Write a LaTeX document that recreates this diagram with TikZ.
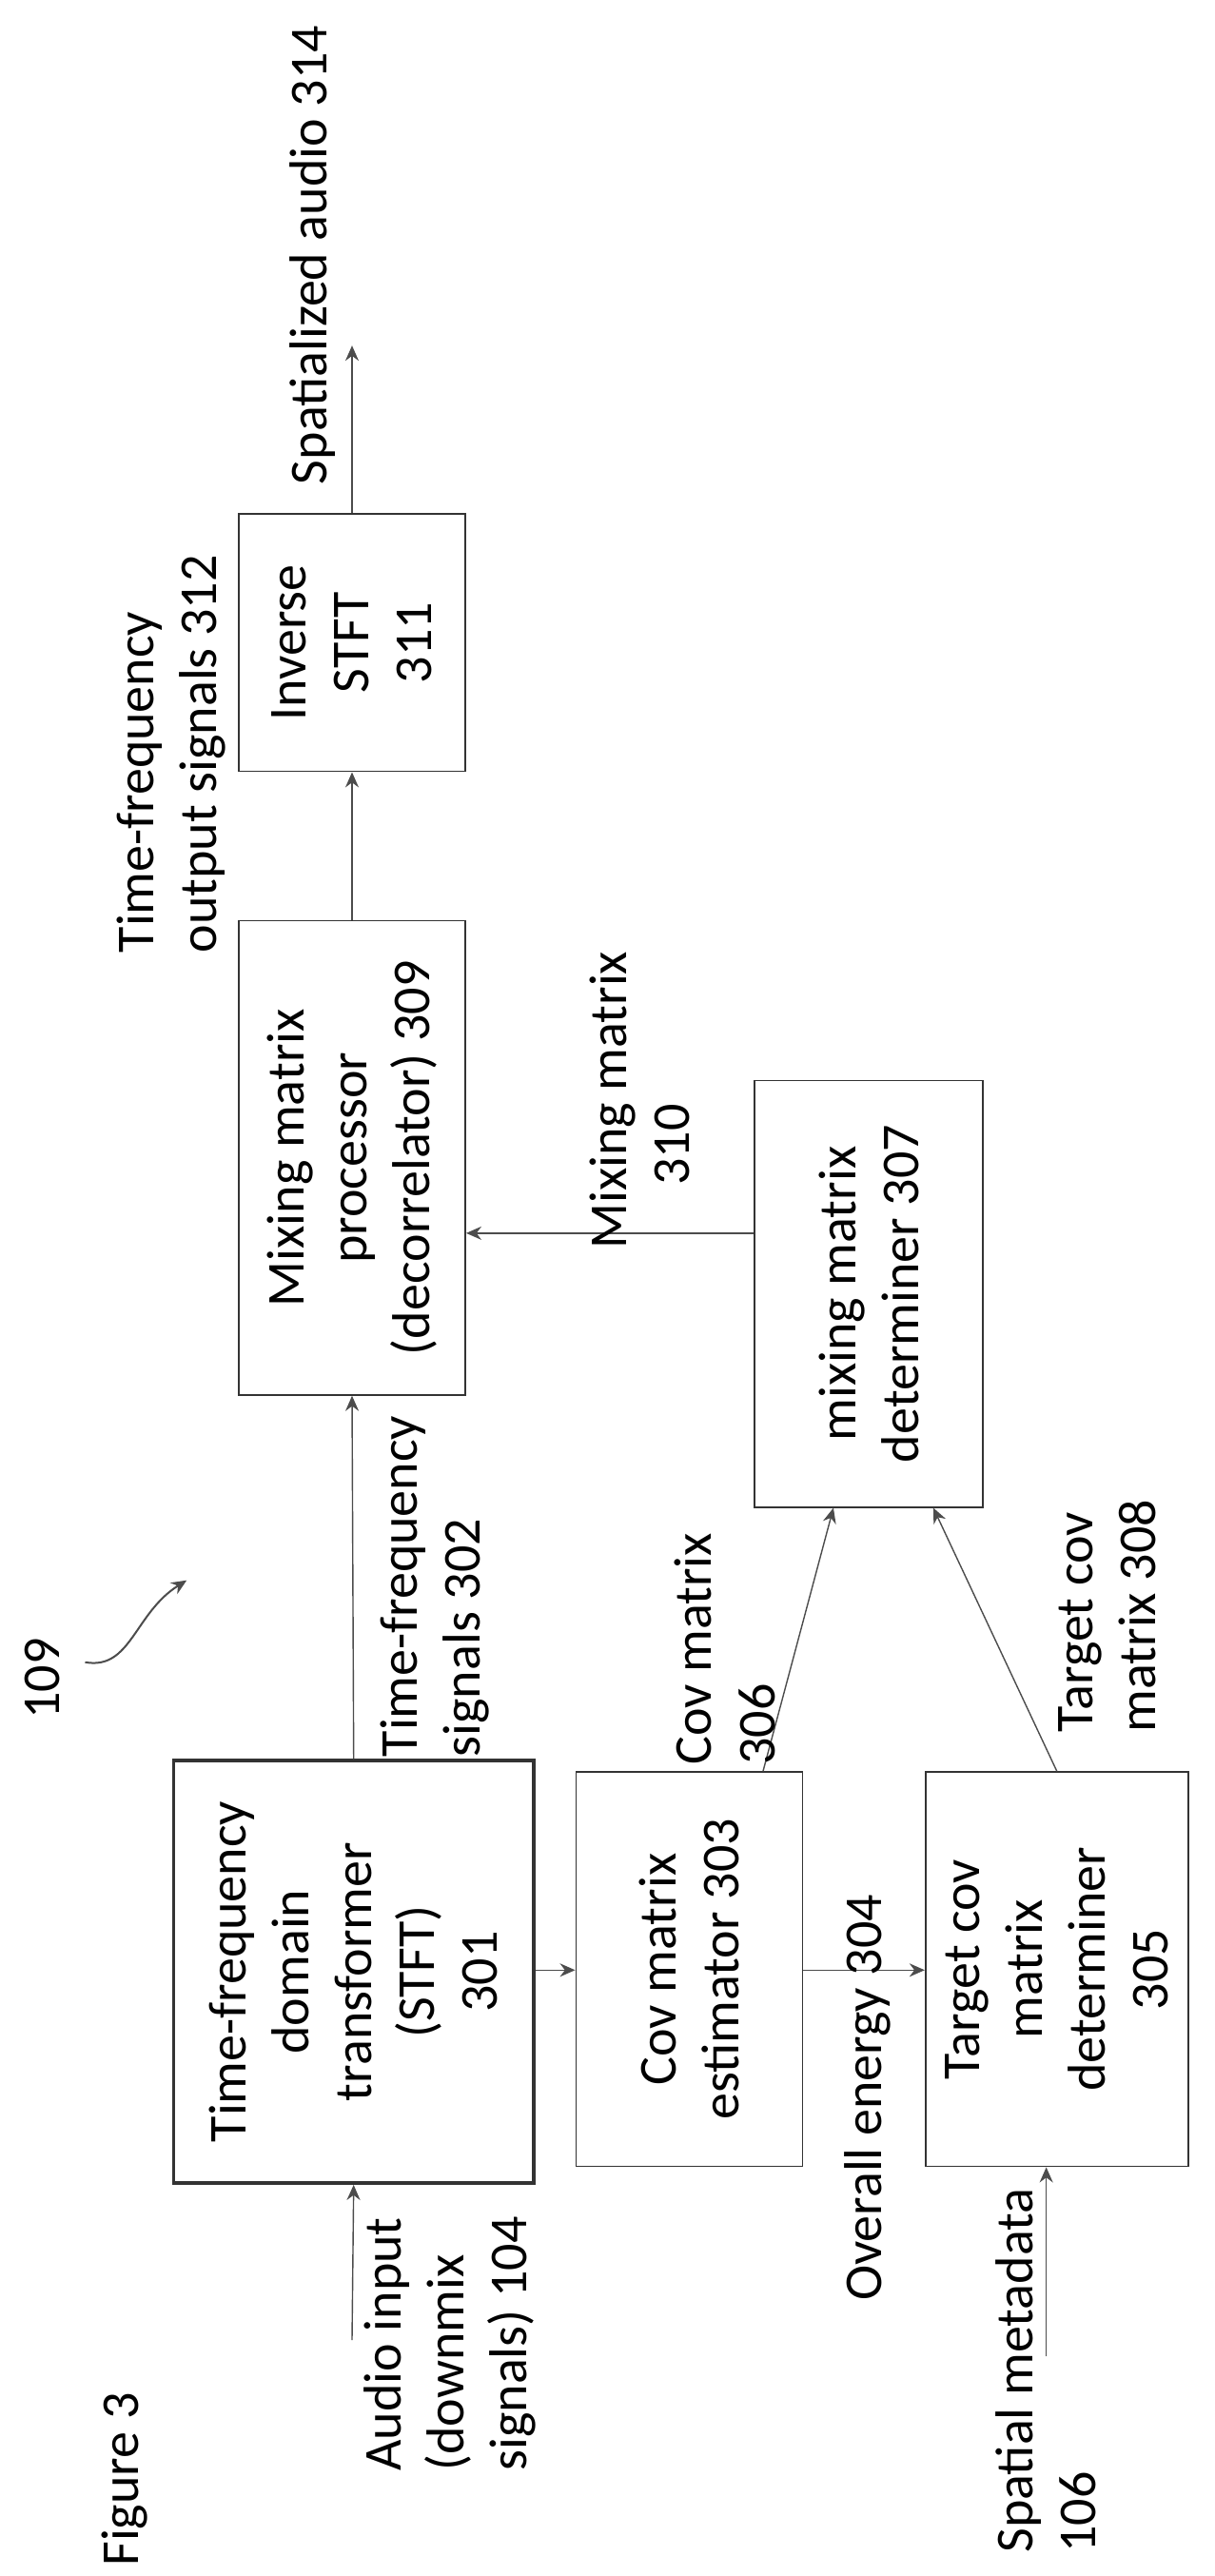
\documentclass[tikz,border=0pt]{standalone}
\usepackage{fontspec}
\setmainfont{Carlito}
\usetikzlibrary{arrows.meta}
\begin{document}
\begin{tikzpicture}[x=0.86pt,y=0.86pt,
  box/.style={draw=black!80,line width=0.9pt,rotate=90,align=center,inner sep=0pt,font=\fontsize{28}{33}\selectfont},
  lab/.style={rotate=90,align=left,inner sep=0pt,font=\fontsize{28}{33}\selectfont},
  arr/.style={draw=black!70,line width=0.7pt,-{Stealth[length=8pt,width=7pt]}}]
\useasboundingbox (0,0) rectangle (742,-1573);
\node[box,line width=1.8pt,minimum width=222pt,minimum height=189pt] (b301) at (216,-1204) {Time-frequency\\domain\\transformer\\(STFT)\\301};
\node[box,minimum width=207pt,minimum height=119pt] (b303) at (421,-1202.5) {Cov matrix\\estimator 303};
\node[box,minimum width=207pt,minimum height=138pt] (b305) at (645.5,-1202.5) {Target cov\\matrix\\determiner\\305};
\node[box,minimum width=224pt,minimum height=120pt] (b307) at (530.5,-790) {mixing matrix\\determiner 307};
\node[box,minimum width=249pt,minimum height=119pt] (b309) at (215,-707) {Mixing matrix\\processor\\(decorrelator) 309};
\node[box,minimum width=135pt,minimum height=119pt] (b311) at (215,-392.5) {Inverse\\STFT\\311};
\coordinate (ain) at (215,-1429);
\coordinate (smd) at (639,-1439);
\coordinate (out) at (215,-211);
\draw[arr] (ain) -- (b301.west);
\draw[arr] (b301.east) -- (b309.west);
\draw[arr] (b301.south |- 0,-1203) -- (b303.north |- 0,-1203);
\draw[arr] (b303.south |- 0,-1203) -- (b305.north |- 0,-1203);
\draw[arr] (smd) -- (smd |- b305.west);
\draw[arr] (b303.east -| 466,0) -- (b307.west -| 509,0);
\draw[arr] (b305.east) -- (b307.west -| 570,0);
\draw[arr] (b307.north |- 0,-753) -- (b309.south |- 0,-753);
\draw[arr] (b309.east) -- (b311.west);
\draw[arr] (b311.east) -- (out);
\node[lab,anchor=north west] (l104) at (222,-1509) {Audio input\\(downmix\\signals) 104};
\node[lab,anchor=north west] (l302) at (232,-1073) {Time-frequency\\signals 302};
\node[lab,anchor=north west] (l306) at (412,-1078) {Cov matrix\\306};
\node[lab,anchor=center] (l304) at (530,-1281) {Overall energy 304};
\node[lab,anchor=north west] (l308) at (646,-1058) {Target cov\\matrix 308};
\node[lab,anchor=north west] (l310) at (360,-763) {Mixing matrix\\\hspace*{1.2em}310};
\node[lab,anchor=north west] (l312) at (71,-582) {Time-frequency\\output signals 312};
\node[lab,anchor=north west] (l314) at (177,-296) {Spatialized audio 314};
\node[lab,anchor=north west] (l106) at (608,-1559) {Spatial metadata\\106};
\node[lab,anchor=center] (fig) at (76,-1514) {Figure 3};
\node[lab,anchor=center] (n109) at (26,-1025) {109};
\draw[arr,line width=1pt] (52,-1015) .. controls (80,-1020) and (82,-985) .. (114,-965);
\end{tikzpicture}
\end{document}
